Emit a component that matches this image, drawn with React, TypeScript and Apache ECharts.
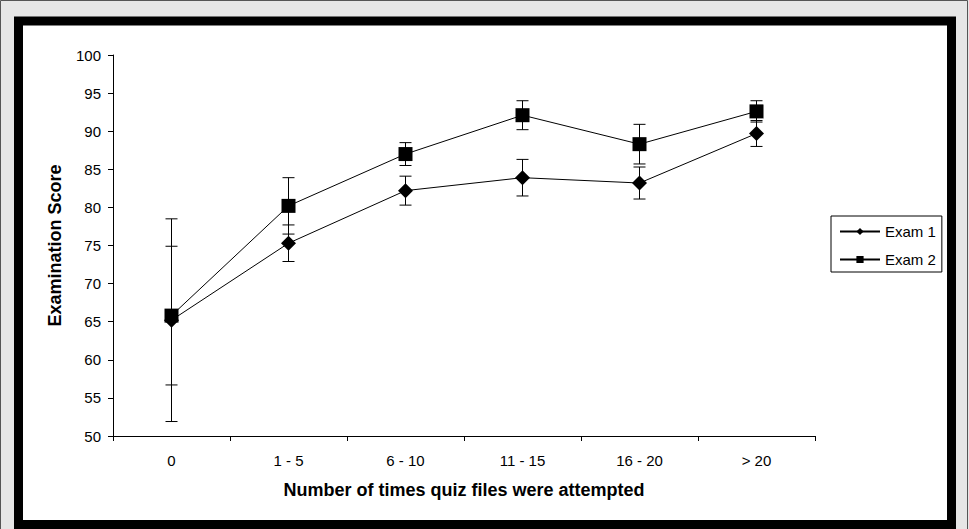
import React, { useEffect, useRef } from "react";
import * as echarts from "echarts";

const categories = ["0", "1 - 5", "6 - 10", "11 - 15", "16 - 20", "> 20"];
const exam1 = [65.2, 75.3, 82.2, 83.9, 83.2, 89.7];
const exam1Err = [13.3, 2.4, 1.9, 2.4, 2.1, 1.7];
const exam2 = [65.8, 80.2, 87.0, 92.1, 88.3, 92.6];
const exam2Err = [9.1, 3.7, 1.5, 1.9, 2.6, 1.4];
const yTicks = { min: 50, max: 100, interval: 5 };

const FONT = "Liberation Sans, Arial, sans-serif";

function errData(vals: number[], errs: number[]) {
  return vals.map((v, i) => [i, v - errs[i], v + errs[i]]);
}

function renderErr(params: any, api: any) {
  const idx = api.value(0);
  const lo = api.coord([idx, api.value(1)]);
  const hi = api.coord([idx, api.value(2)]);
  const cap = 6;
  const style = { stroke: "#000", lineWidth: 1, fill: "none" };
  return {
    type: "group",
    children: [
      { type: "line", shape: { x1: hi[0], y1: hi[1], x2: lo[0], y2: lo[1] }, style },
      { type: "line", shape: { x1: hi[0] - cap, y1: hi[1], x2: hi[0] + cap, y2: hi[1] }, style },
      { type: "line", shape: { x1: lo[0] - cap, y1: lo[1], x2: lo[0] + cap, y2: lo[1] }, style },
    ],
  };
}

export default function App() {
  const ref = useRef<HTMLDivElement>(null);
  useEffect(() => {
    if (!ref.current) return;
    const chart = echarts.init(ref.current, null, { renderer: "svg" });
    chart.setOption({
      animation: false,
      backgroundColor: "#e6e6e6",
      textStyle: { fontFamily: FONT, color: "#000" },
      graphic: [
        {
          type: "rect",
          z: -10,
          shape: { x: 0.5, y: 0.5, width: 967, height: 560 },
          style: { fill: "#e6e6e6", stroke: "#555", lineWidth: 1 },
          silent: true,
        },
        {
          type: "rect",
          z: -5,
          shape: { x: 18.5, y: 21, width: 933, height: 503.5 },
          style: { fill: "#fff", stroke: "#000", lineWidth: 9 },
          silent: true,
        },
      ],
      grid: { left: 113, right: 154, top: 55, bottom: 93, containLabel: false },
      legend: {
        orient: "vertical",
        left: 831,
        top: 216,
        padding: [8, 6, 5, 8],
        itemGap: 13,
        itemWidth: 40,
        itemHeight: 9,
        backgroundColor: "#fff",
        borderColor: "#000",
        borderWidth: 1,
        borderRadius: 0,
        textStyle: { fontFamily: FONT, fontSize: 15, color: "#000" },
        data: ["Exam 1", "Exam 2"],
      },
      xAxis: {
        type: "category",
        data: categories,
        boundaryGap: true,
        axisLine: { lineStyle: { color: "#000", width: 1 } },
        axisTick: { show: true, length: 5, lineStyle: { color: "#000" } },
        axisLabel: { color: "#000", fontSize: 15, margin: 17, fontFamily: FONT },
        name: "Number of times quiz files were attempted",
        nameLocation: "middle",
        nameGap: 45,
        nameTextStyle: { fontSize: 18, fontWeight: "bold", color: "#000", fontFamily: FONT },
        splitLine: { show: false },
      },
      yAxis: {
        type: "value",
        min: yTicks.min,
        max: yTicks.max,
        interval: yTicks.interval,
        axisLine: { show: true, lineStyle: { color: "#000", width: 1 } },
        axisTick: { show: true, length: 5, lineStyle: { color: "#000" } },
        axisLabel: { color: "#000", fontSize: 15, margin: 12, fontFamily: FONT },
        splitLine: { show: false },
        name: "Examination Score",
        nameLocation: "middle",
        nameRotate: 90,
        nameGap: 49,
        nameTextStyle: { fontSize: 18, fontWeight: "bold", color: "#000", fontFamily: FONT },
      },
      series: [
        {
          name: "Exam 1 err",
          type: "custom",
          renderItem: renderErr,
          data: errData(exam1, exam1Err),
          encode: { x: 0, y: [1, 2] },
          z: 3,
          silent: true,
        },
        {
          name: "Exam 2 err",
          type: "custom",
          renderItem: renderErr,
          data: errData(exam2, exam2Err),
          encode: { x: 0, y: [1, 2] },
          z: 3,
          silent: true,
        },
        {
          name: "Exam 1",
          type: "line",
          data: exam1,
          symbol: "diamond",
          symbolSize: 15,
          itemStyle: { color: "#000" },
          lineStyle: { color: "#000", width: 1 },
          z: 4,
        },
        {
          name: "Exam 2",
          type: "line",
          data: exam2,
          symbol: "rect",
          symbolSize: 14,
          itemStyle: { color: "#000" },
          lineStyle: { color: "#000", width: 1 },
          z: 4,
        },
      ],
    });
    return () => chart.dispose();
  }, []);
  return (
    <div
      ref={ref}
      style={{ position: "absolute", left: 0, top: 0, width: 969, height: 529 }}
    />
  );
}
